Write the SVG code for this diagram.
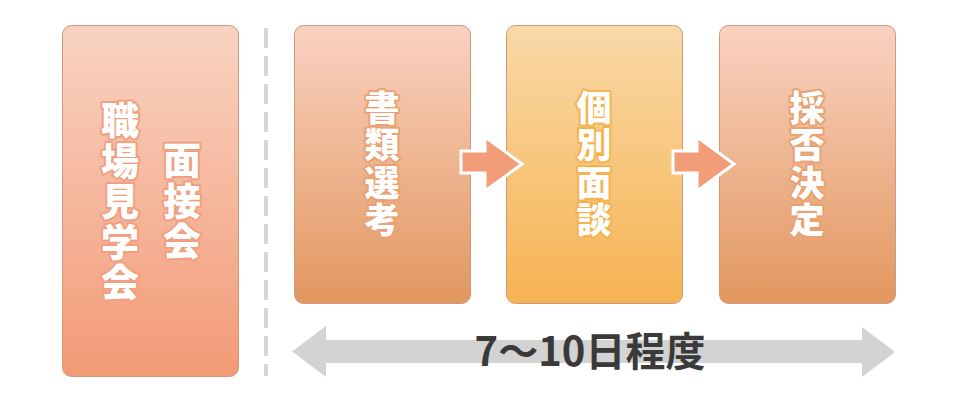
<svg xmlns="http://www.w3.org/2000/svg" width="960" height="401" viewBox="0 0 960 401">
<defs>
<linearGradient id="gPink" x1="0" y1="0" x2="0" y2="1"><stop offset="0" stop-color="#f9d3c2"/><stop offset="1" stop-color="#f29a76"/></linearGradient>
<linearGradient id="gBrown" x1="0" y1="0" x2="0" y2="1"><stop offset="0" stop-color="#f9d2c1"/><stop offset="1" stop-color="#e2975e"/></linearGradient>
<linearGradient id="gYellow" x1="0" y1="0" x2="0" y2="1"><stop offset="0" stop-color="#f9d9a8"/><stop offset="1" stop-color="#f6b352"/></linearGradient>
</defs>
<style>
.box{stroke:#cf9a7c;stroke-width:1}
.lbl{font-family:"Noto Sans CJK JP","Noto Sans CJK SC",sans-serif;font-weight:900;fill:#ffffff;stroke-width:4;paint-order:stroke;stroke-linejoin:round;writing-mode:vertical-rl;text-orientation:upright}
.big{font-size:38px;letter-spacing:2.5px}
.mid{font-size:35px;letter-spacing:2.5px}
.s1{stroke:#f0a080}
.s2{stroke:#e9a274}
.s3{stroke:#f5b250}
.step{fill:#f29c78;stroke:#ffffff;stroke-width:3;stroke-linejoin:miter}
.dur{font-family:"Noto Sans CJK JP","Noto Sans CJK SC",sans-serif;font-weight:bold;fill:#3a3a3a;font-size:40px;text-anchor:middle}
</style>
<line x1="266" y1="28" x2="266" y2="376" stroke="#d5d5d5" stroke-width="4" stroke-dasharray="20 8"/>
<g id="node-kengaku">
<rect class="box" x="62.5" y="25.5" width="176" height="351" rx="9" fill="url(#gPink)"/>
<text class="lbl big s1" x="120" y="101">職場見学会</text>
<text class="lbl big s1" x="182" y="141">面接会</text>
</g>
<g id="node-shorui">
<rect class="box" x="294.5" y="25.5" width="176" height="278" rx="9" fill="url(#gBrown)"/>
<text class="lbl mid s2" x="382" y="90">書類選考</text>
</g>
<g id="node-kobetsu">
<rect class="box" x="506.5" y="25.5" width="176" height="278" rx="9" fill="url(#gYellow)"/>
<text class="lbl mid s3" x="594" y="90">個別面談</text>
</g>
<g id="node-saihi">
<rect class="box" x="719.5" y="25.5" width="176" height="278" rx="9" fill="url(#gBrown)"/>
<text class="lbl mid s2" x="807" y="90">採否決定</text>
</g>
<g id="connectors">
<polygon class="step" points="461,151 485,151 485,137 522,164 485,191 485,173 461,173"/>
<polygon class="step" points="673,151 697,151 697,137 734,164 697,191 697,173 673,173"/>
<polygon fill="#d3d3d3" points="292,351.5 326,326 326,340 862,340 862,327 895,352 862,377 862,363 326,363 326,377"/>
<text class="dur" x="590" y="366">7～10日程度</text>
</g>
</svg>
